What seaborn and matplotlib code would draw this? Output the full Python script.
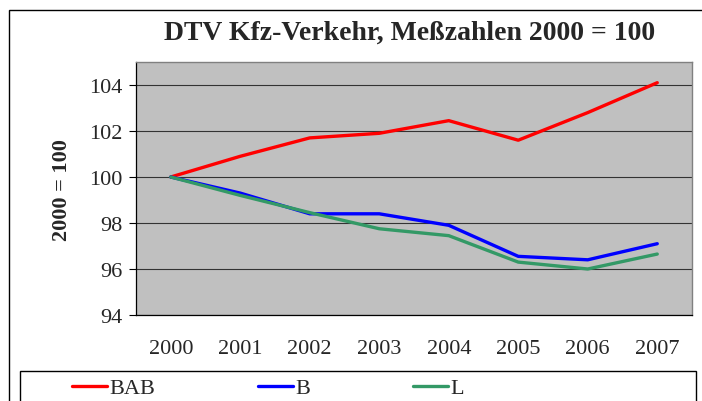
import pandas as pd
import matplotlib.pyplot as plt
import seaborn as sns
from matplotlib.patches import Rectangle

years = ["2000", "2001", "2002", "2003", "2004", "2005", "2006", "2007"]
bab = [100.0, 100.9, 101.7, 101.9, 102.45, 101.6, 102.8, 104.1]
b = [100.0, 99.3, 98.4, 98.4, 97.9, 96.55, 96.4, 97.1]
l = [100.0, 99.2, 98.45, 97.75, 97.45, 96.3, 96.0, 96.65]
series = ["BAB", "B", "L"]
colors = {"BAB": "#FF0000", "B": "#0000FF", "L": "#339966"}

rows = []
for name, vals in zip(series, [bab, b, l]):
    for i, v in enumerate(vals):
        rows.append({"pos": i, "year": years[i], "value": v, "series": name})
df = pd.DataFrame(rows)

sns.set_style("white")
plt.rcParams["font.family"] = ["Liberation Serif", "DejaVu Serif"]

W, H = 702, 402
fig = plt.figure(figsize=(W / 100, H / 100), dpi=100)
ax = fig.add_axes([136 / W, 1 - 316 / H, (692 - 136) / W, (316 - 63) / H])
ax.set_facecolor("#C0C0C0")

sns.lineplot(data=df, x="pos", y="value", hue="series", palette=colors,
             hue_order=series, linewidth=2.4, ax=ax, legend=False)

ax.set_xlim(-0.5, 7.5)
ax.set_ylim(94, 105)
ax.set_yticks([94, 96, 98, 100, 102, 104])
ax.yaxis.grid(True, color="#333333", linewidth=0.8)
ax.set_axisbelow(True)
ax.set_xticks(range(len(years)))
ax.set_xticklabels(years)
ax.set_xticks([i - 0.5 for i in range(len(years) + 1)], minor=True)
ax.tick_params(axis="x", which="major", length=0, pad=17, labelsize=16)
ax.tick_params(axis="x", which="minor", length=5, width=0.8, direction="out", color="black")
ax.tick_params(axis="y", length=5, width=0.8, direction="out", color="black", pad=5, labelsize=16, left=True)
ax.set_xlabel("")
ax.set_ylabel("")
for side in ["top", "right"]:
    ax.spines[side].set_color("#808080")
    ax.spines[side].set_linewidth(1.0)
for side in ["left", "bottom"]:
    ax.spines[side].set_color("black")
    ax.spines[side].set_linewidth(0.9)

fig.text(410 / W, 1 - 33 / H, "DTV Kfz-Verkehr, Meßzahlen 2000 = 100",
         ha="center", va="center", fontsize=20, fontweight="bold")
fig.text(62 / W, 1 - 190 / H, "2000 = 100", rotation=90,
         ha="center", va="center", fontsize=16, fontweight="bold")

# outer chart border and legend box
fig.patches.append(Rectangle((9 / W, -0.1), 1.2, 1 - 11 / H + 0.1, transform=fig.transFigure,
                             fill=False, edgecolor="black", linewidth=1.0, clip_on=False))
fig.patches.append(Rectangle((20 / W, -0.1), (696 - 20) / W, 1 - 372 / H + 0.1, transform=fig.transFigure,
                             fill=False, edgecolor="black", linewidth=1.0, clip_on=False))

handles = [plt.Line2D([], [], color=colors[s], linewidth=2.4) for s in series]
fig.legend(handles, series, loc="center left", bbox_to_anchor=(63 / W, 1 - 389 / H),
           ncol=3, frameon=False, fontsize=16, handlelength=1.6,
           handletextpad=0.1, columnspacing=4.6, borderaxespad=0)

fig.savefig("out.png", dpi=100)
